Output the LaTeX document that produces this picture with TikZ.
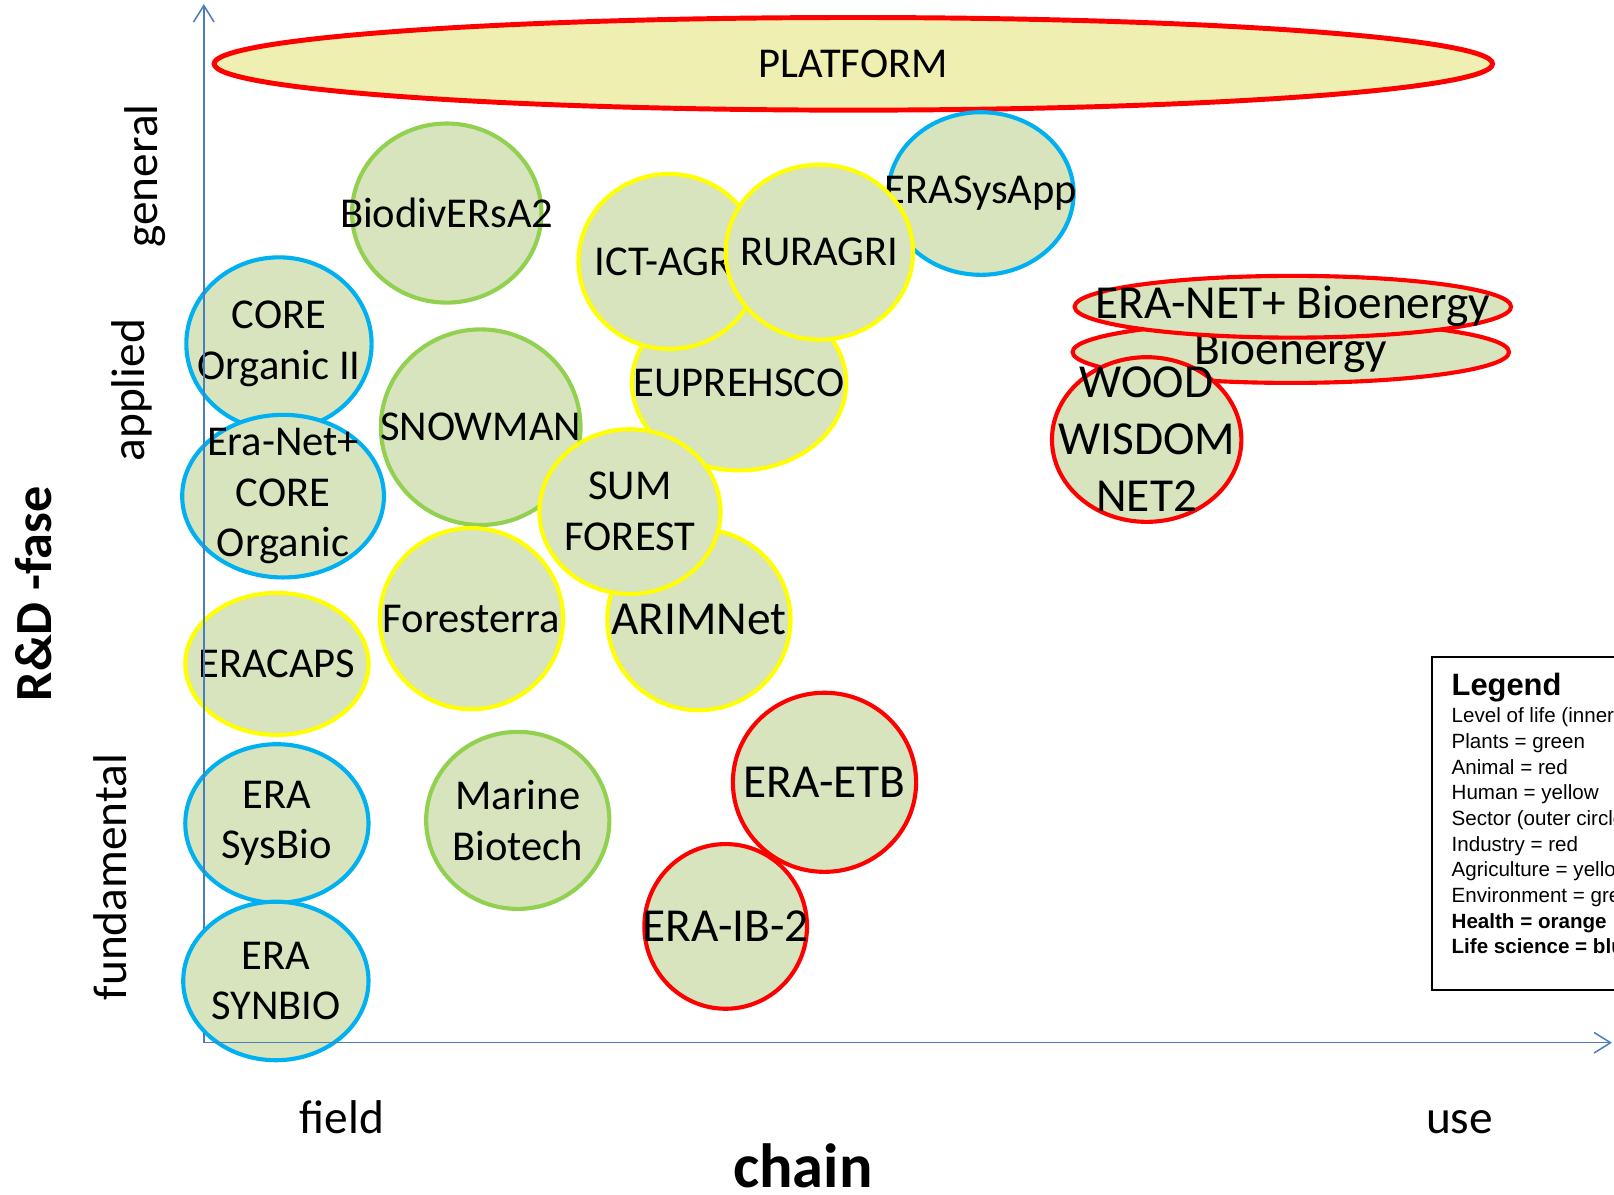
\documentclass[tikz,border=0pt]{standalone}
\usepackage{fontspec}
\setmainfont{Carlito}
\newfontfamily\legendfont{Liberation Sans}
\usetikzlibrary{shapes.geometric, arrows.meta}
\definecolor{leafFill}{HTML}{D7E4BD}
\definecolor{platFill}{HTML}{EFEFB2}
\definecolor{rimGreen}{HTML}{92D050}
\definecolor{rimBlue}{HTML}{00B0F0}
\definecolor{rimYellow}{HTML}{FFFF00}
\definecolor{rimRed}{HTML}{FF0000}
\definecolor{axisBlue}{HTML}{4A7EBB}
\newcommand*{\unitPx}{0.75pt}
\newcommand*{\bubArg}[8]{% name, x, y, x radius, y radius, rim colour, text style, text (all in px)
    \node [bubble, draw=#6, minimum width=#4*2*\unitPx, minimum height=#5*2*\unitPx] (#1) at (#2,#3) {};
    \node [#7] (#1-lbl) at (#1.center) {#8};
}
\newcommand*{\bub}[7]{\bubArg{#1}{#2}{#3}{#4}{#5}{#6}{ontext}{#7}}

\begin{document}
\begin{tikzpicture}[x=\unitPx, y=-\unitPx,
    bubble/.style={ellipse, fill=leafFill, line width=3pt, inner sep=0pt},
    ontext/.style={align=center, inner sep=0pt, font=\fontsize{31}{36.8}\selectfont},
    bigtext/.style={align=center, inner sep=0pt, font=\fontsize{34.5}{41.6}\selectfont},
    sidetext/.style={inner sep=0pt, rotate=90, font=\fontsize{34.5}{41.6}\selectfont},
    axis/.style={draw=axisBlue, line width=1.1pt, -{Straight Barb[length=12pt, width=15pt]}}]
\useasboundingbox (0,0) rectangle (1568,1160);
\node [bubble, fill=platFill, draw=rimRed, line width=3.6pt, minimum width=1242*\unitPx, minimum height=90*\unitPx] (platform) at (829,62) {};
\node [ontext] (platform-lbl) at (platform.center) {PLATFORM};
\bub{biodiv}{434}{207}{92}{87}{rimGreen}{BiodivERsA2}
\bub{euprehsco}{718}{372}{104}{85}{rimYellow}{EUPREHSCO}
\bub{ictagri}{650}{254}{88}{85}{rimYellow}{ICT-AGRI}
\bub{erasysapp}{953}{188}{90}{79}{rimBlue}{ERASysApp}
\bub{ruragri}{796}{245}{91}{85}{rimYellow}{RURAGRI}
\bub{coreorg}{271}{334}{90}{84}{rimBlue}{CORE\\Organic II}
\bub{eranetcore}{275}{482}{98}{79}{rimBlue}{Era-Net+\\CORE\\Organic}
\bub{snowman}{467}{415}{97}{95}{rimGreen}{SNOWMAN}
\bub{foresterra}{458}{601}{89}{88}{rimYellow}{Foresterra}
\bubArg{arimnet}{679}{602}{89}{88}{rimYellow}{bigtext}{ARIMNet}
\bub{sumforest}{612}{497}{88}{80}{rimYellow}{SUM\\FOREST}
\bub{eracaps}{269}{645}{89}{69}{rimYellow}{ERACAPS}
\bub{erasysbio}{269}{800}{89}{77}{rimBlue}{ERA\\SysBio}
\bub{marine}{503}{797}{89}{86}{rimGreen}{Marine\\Biotech}
\bubArg{eraetb}{801}{760}{89}{87}{rimRed}{bigtext}{ERA-ETB}
\bubArg{eraib}{705}{900}{79}{80}{rimRed}{bigtext}{ERA-IB-2}
\bubArg{bioenergy}{1254}{342}{212}{30}{rimRed}{bigtext}{Bioenergy}
\bubArg{eranetbio}{1256}{298}{212}{30}{rimRed}{bigtext}{ERA-NET+ Bioenergy}
\bubArg{woodwisdom}{1114}{427}{92}{80}{rimRed}{bigtext}{WOOD\\WISDOM\\NET2}
% axes
\coordinate (origin) at (198,1013);
\coordinate (stub) at (198,1004);
\coordinate (ytop) at (198,4);
\coordinate (xend) at (1566,1013);
\draw [axis] (origin) -- (ytop);
\bub{erasynbio}{268}{953}{90}{77}{rimBlue}{ERA\\SYNBIO}
\draw [axis] (stub) -- (origin) -- (xend);
% axis labels
\node [sidetext] (general) at (141,171) {general};
\node [sidetext] (applied) at (128,379) {applied};
\node [sidetext] (fundamental) at (107,852) {fundamental};
\node [inner sep=0pt, rotate=90, font=\fontsize{38}{45}\selectfont\bfseries] (rdfase) at (33,577) {R\&D -fase};
\node [bigtext, anchor=base] (field) at (332,1101) {field};
\node [bigtext, anchor=base] (use) at (1418,1101) {use};
\node [inner sep=0pt, anchor=base, font=\fontsize{45.5}{54}\selectfont\bfseries] (chain) at (780,1154) {chain};
% legend
\node [draw=black, line width=1.5pt, anchor=north west, minimum width=300pt, minimum height=243pt, inner sep=0pt] (legend) at (1390,637) {};
\node [anchor=north west, align=left, inner sep=0pt, font=\legendfont\fontsize{15}{18.7}\selectfont] (legend-lbl) at (1410,654) {{\fontsize{22.5}{27}\selectfont\bfseries Legend}\\[1pt]
    Level of life (inner circle)\\ Plants = green\\ Animal = red\\ Human = yellow\\
    Sector (outer circle)\\ Industry = red\\ Agriculture = yellow\\ Environment = green\\
    \textbf{Health = orange}\\ \textbf{Life science = blue}};
\end{tikzpicture}
\end{document}
